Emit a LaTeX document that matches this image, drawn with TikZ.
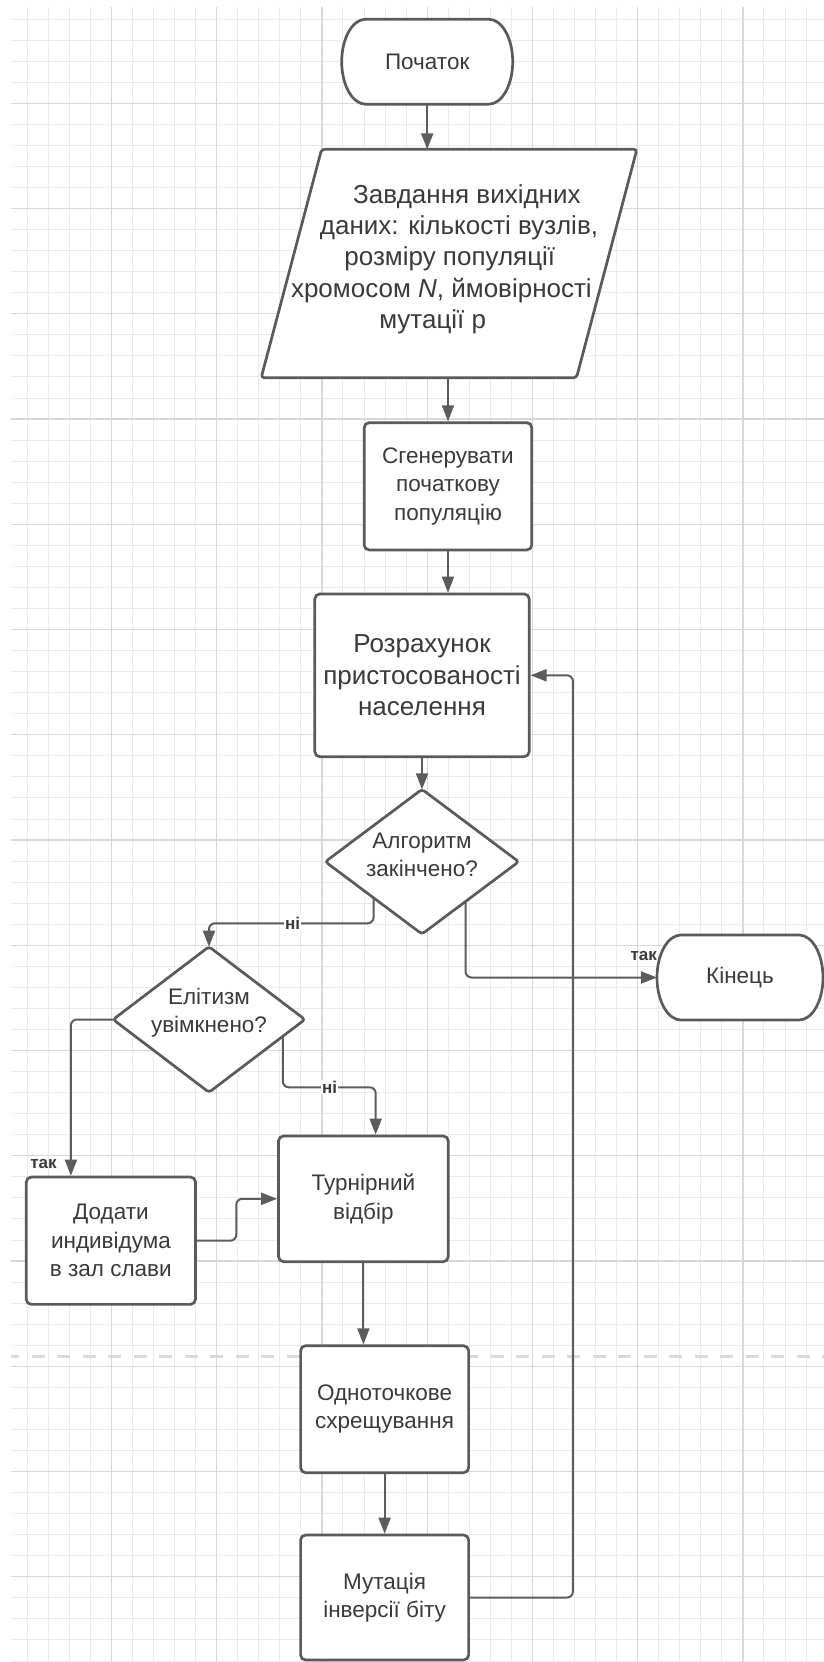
\documentclass[tikz,border=0pt]{standalone}
\usepackage{fontspec}
\setmainfont{Liberation Sans}
\usetikzlibrary{arrows.meta,calc}

\definecolor{linec}{HTML}{5A5A5A}
\definecolor{flowc}{HTML}{5C5C5C}
\definecolor{textc}{HTML}{3A3A3A}
\definecolor{gridminor}{HTML}{EBEBEB}
\definecolor{gridmajor}{HTML}{D8D8D8}
\definecolor{pagebreak}{HTML}{DADADA}

% stadium-shaped outline around a frame node
\newcommand\stadium[1]{%
  \draw[shapeline] ([xshift=24pt]#1.north west) -- ([xshift=-24pt]#1.north east)
    arc[start angle=90, end angle=-90, x radius=24pt, y radius=42.5pt]
    -- ([xshift=24pt]#1.south west)
    arc[start angle=270, end angle=90, x radius=24pt, y radius=42.5pt] -- cycle;}
% diamond outline inside a frame node
\newcommand\rhombus[1]{%
  \draw[shapeline, rounded corners=3pt] (#1.north) -- (#1.east) -- (#1.south) -- (#1.west) -- cycle;}

\begin{document}
\begin{tikzpicture}[x=1pt, y=-1pt,
  shapeline/.style={draw=linec, line width=2.7pt, fill=white},
  box/.style={shapeline, rectangle, rounded corners=5pt, inner sep=0pt, align=center,
    text=textc, font=\fontsize{22.5}{28.4}\selectfont},
  bigbox/.style={box, font=\fontsize{26}{31.4}\selectfont},
  frame/.style={rectangle, inner sep=0pt, outer sep=0pt},
  txt/.style={inner sep=0pt, align=center, text=textc, font=\fontsize{22.5}{28.4}\selectfont},
  bigtxt/.style={txt, font=\fontsize{26}{31.4}\selectfont},
  flow/.style={draw=flowc, line width=2pt, rounded corners=6pt,
    -{Triangle[length=16pt, width=12pt]}},
  tag/.style={inner sep=1pt, text=textc, font=\bfseries\fontsize{17}{20}\selectfont},
]
\useasboundingbox (0,0) rectangle (824,1662);
\fill[white] (0,0) rectangle (824,1662);

% background grid
\foreach \k in {-4,...,33} {
  \pgfmathsetmacro\gx{111.4+21.05*\k}
  \draw[gridminor, line width=1pt] (\gx,7) -- (\gx,1662);
}
\foreach \k in {-4,...,74} {
  \pgfmathsetmacro\gy{103.3+21.05*\k}
  \draw[gridminor, line width=1pt] (11,\gy) -- (824,\gy);
}
\foreach \k in {0,5,...,30} {
  \pgfmathsetmacro\gx{111.4+21.05*\k}
  \draw[gridmajor, line width=1.2pt] (\gx,7) -- (\gx,1662);
}
\foreach \k in {0,5,...,70} {
  \pgfmathsetmacro\gy{103.3+21.05*\k}
  \draw[gridmajor, line width=1.2pt] (11,\gy) -- (824,\gy);
}
% page break
\draw[pagebreak, line width=3pt, dash pattern=on 13pt off 12.5pt, dash phase=4.8pt]
  (11,1356.7) -- (824,1356.7);

% frames of the shapes
\node[frame, minimum width=171pt, minimum height=85pt] (start) at (427.2,61.7) {};
\node[frame, minimum width=375.7pt, minimum height=228.4pt] (inp) at (449.05,263.5) {};
\node[frame, minimum width=193.4pt, minimum height=144.7pt] (d1) at (422,861.7) {};
\node[frame, minimum width=166pt, minimum height=85pt] (end) at (740,977.5) {};
\node[frame, minimum width=191.8pt, minimum height=145.6pt] (d2) at (209,1019.5) {};

% process boxes
\node[box, minimum width=167.6pt, minimum height=127.3pt] (gen) at (448,486.3)
  {Сгенерувати\\початкову\\популяцію};
\node[bigbox, minimum width=214.4pt, minimum height=162.7pt] (calc) at (422,675.3)
  {Розрахунок\\пристосованості\\населення};
\node[box, minimum width=169.2pt, minimum height=127.3pt] (add) at (110.9,1240.7)
  {Додати\\индивідума\\в зал слави};
\node[box, minimum width=169.7pt, minimum height=125.7pt] (tour) at (363.4,1198.8)
  {Турнірний\\відбір};
\node[box, minimum width=168pt, minimum height=127pt] (cross) at (384.6,1409.2)
  {Одноточкове\\схрещування};
\node[box, minimum width=168pt, minimum height=125pt] (mut) at (384.6,1597.5)
  {Мутація\\інверсії біту};

% connectors
\coordinate (d1no) at ($(d1.west)!0.5!(d1.south)$);
\coordinate (d1yes) at ($(d1.south)!0.45!(d1.east)$);
\coordinate (d2no) at ($(d2.south)!0.77!(d2.east)$);
\draw[flow] (start.south) -- (start.south |- inp.north);
\draw[flow] (inp.south -| gen.north) -- (gen.north);
\draw[flow] (gen.south) -- (gen.south |- calc.north);
\draw[flow] (calc.south) -- (d1.north);
\draw[flow] (d1no) -- ++(0,25.4) -| (d2.north);
\draw[flow] (d1yes) |- (end.west);
\draw[flow] (d2.west) -| ([xshift=-40pt]add.north);
\draw[flow] (d2no) -- (d2no |- 0,1087.3) -| ([xshift=12.3pt]tour.north);
\draw[flow] (add.east) -- ++(39.4,0) |- (tour.west);
\draw[flow] (tour.south) -- (tour.south |- cross.north);
\draw[flow] (cross.south) -- (mut.north);
\draw[flow] (mut.east) -- ++(103,0) |- (calc.east);

% outlines of terminals, input and decisions
\stadium{start}
\stadium{end}
\draw[shapeline, rounded corners=3pt] ([xshift=60.4pt]inp.north west) -- (inp.north east)
  -- ([xshift=-60.4pt]inp.south east) -- (inp.south west) -- cycle;
\rhombus{d1}
\rhombus{d2}

% texts
\node[txt] (starttxt) at (start) {Початок};
\node[txt] (endtxt) at (end) {Кінець};
\node[txt] (d1txt) at ([yshift=7pt]d1.center) {Алгоритм\\закінчено?};
\node[txt] (d2txt) at ([yshift=7pt]d2.center) {Елітизм\\увімкнено?};
\node[bigtxt, anchor=base] (inl1) at (466.9,203) {Завдання вихідних};
\node[bigtxt, anchor=base] (inl2) at (459,234.4) {даних: кількості вузлів,};
\node[bigtxt, anchor=base] (inl3) at (449.8,265.8) {розміру популяції};
\node[bigtxt, anchor=base] (inl4) at (441.4,297.2) {хромосом \textit{N}, ймовірності};
\node[bigtxt, anchor=base] (inl5) at (432.7,328.6) {мутації р};

% branch labels
\node[tag, fill=white] (no1) at (292.7,923.3) {ні};
\node[tag, fill=white] (no2) at (329.5,1087.3) {ні};
\node[tag] (yes1) at (643.7,955.5) {так};
\node[tag] (yes2) at (43.5,1164) {так};
\end{tikzpicture}
\end{document}
